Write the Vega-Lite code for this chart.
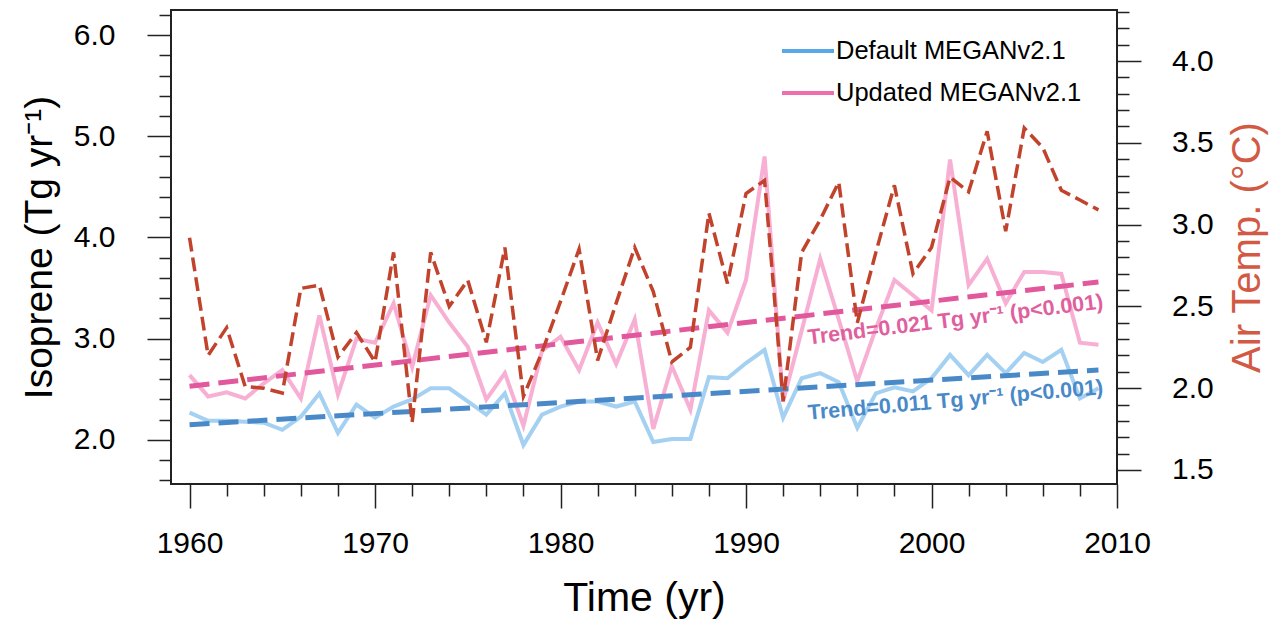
{
  "$schema": "https://vega.github.io/schema/vega-lite/v6.json",
  "width": 946,
  "height": 474,
  "autosize": "none",
  "padding": {"left": 171, "top": 10, "right": 162, "bottom": 137},
  "background": "white",
  "config": {
    "view": {"stroke": "#222", "strokeWidth": 2},
    "font": "Liberation Sans",
    "axis": {
      "labelFont": "Liberation Sans",
      "titleFont": "Liberation Sans",
      "labelColor": "black",
      "titleColor": "black",
      "tickColor": "#222",
      "tickWidth": 1.5,
      "grid": false,
      "domain": false,
      "titleFontWeight": "normal",
      "labelFontSize": 30,
      "titleFontSize": 39,
      "labelOverlap": false,
      "labelFlush": false,
      "labelBound": false
    },
    "legend": {
      "orient": "none",
      "legendX": 609,
      "legendY": 26,
      "padding": 0,
      "symbolType": "stroke",
      "symbolStrokeWidth": 4,
      "symbolSize": 2704,
      "symbolOpacity": 1,
      "labelFont": "Liberation Sans",
      "labelFontSize": 25.5,
      "labelColor": "black",
      "labelOffset": 0,
      "labelLimit": 0,
      "clipHeight": 30,
      "rowPadding": 12
    }
  },
  "datasets": {
    "isoprene": [
      {"year": 1960, "series": "Default MEGANv2.1", "value": 2.27},
      {"year": 1961, "series": "Default MEGANv2.1", "value": 2.19},
      {"year": 1962, "series": "Default MEGANv2.1", "value": 2.19},
      {"year": 1963, "series": "Default MEGANv2.1", "value": 2.18},
      {"year": 1964, "series": "Default MEGANv2.1", "value": 2.17},
      {"year": 1965, "series": "Default MEGANv2.1", "value": 2.10},
      {"year": 1966, "series": "Default MEGANv2.1", "value": 2.23},
      {"year": 1967, "series": "Default MEGANv2.1", "value": 2.46},
      {"year": 1968, "series": "Default MEGANv2.1", "value": 2.07},
      {"year": 1969, "series": "Default MEGANv2.1", "value": 2.35},
      {"year": 1970, "series": "Default MEGANv2.1", "value": 2.22},
      {"year": 1971, "series": "Default MEGANv2.1", "value": 2.33},
      {"year": 1972, "series": "Default MEGANv2.1", "value": 2.40},
      {"year": 1973, "series": "Default MEGANv2.1", "value": 2.51},
      {"year": 1974, "series": "Default MEGANv2.1", "value": 2.51},
      {"year": 1975, "series": "Default MEGANv2.1", "value": 2.38},
      {"year": 1976, "series": "Default MEGANv2.1", "value": 2.25},
      {"year": 1977, "series": "Default MEGANv2.1", "value": 2.46},
      {"year": 1978, "series": "Default MEGANv2.1", "value": 1.95},
      {"year": 1979, "series": "Default MEGANv2.1", "value": 2.25},
      {"year": 1980, "series": "Default MEGANv2.1", "value": 2.33},
      {"year": 1981, "series": "Default MEGANv2.1", "value": 2.38},
      {"year": 1982, "series": "Default MEGANv2.1", "value": 2.38},
      {"year": 1983, "series": "Default MEGANv2.1", "value": 2.33},
      {"year": 1984, "series": "Default MEGANv2.1", "value": 2.38},
      {"year": 1985, "series": "Default MEGANv2.1", "value": 1.98},
      {"year": 1986, "series": "Default MEGANv2.1", "value": 2.01},
      {"year": 1987, "series": "Default MEGANv2.1", "value": 2.01},
      {"year": 1988, "series": "Default MEGANv2.1", "value": 2.62},
      {"year": 1989, "series": "Default MEGANv2.1", "value": 2.61},
      {"year": 1990, "series": "Default MEGANv2.1", "value": 2.76},
      {"year": 1991, "series": "Default MEGANv2.1", "value": 2.89},
      {"year": 1992, "series": "Default MEGANv2.1", "value": 2.22},
      {"year": 1993, "series": "Default MEGANv2.1", "value": 2.61},
      {"year": 1994, "series": "Default MEGANv2.1", "value": 2.66},
      {"year": 1995, "series": "Default MEGANv2.1", "value": 2.57},
      {"year": 1996, "series": "Default MEGANv2.1", "value": 2.12},
      {"year": 1997, "series": "Default MEGANv2.1", "value": 2.46},
      {"year": 1998, "series": "Default MEGANv2.1", "value": 2.52},
      {"year": 1999, "series": "Default MEGANv2.1", "value": 2.48},
      {"year": 2000, "series": "Default MEGANv2.1", "value": 2.61},
      {"year": 2001, "series": "Default MEGANv2.1", "value": 2.84},
      {"year": 2002, "series": "Default MEGANv2.1", "value": 2.64},
      {"year": 2003, "series": "Default MEGANv2.1", "value": 2.84},
      {"year": 2004, "series": "Default MEGANv2.1", "value": 2.66},
      {"year": 2005, "series": "Default MEGANv2.1", "value": 2.86},
      {"year": 2006, "series": "Default MEGANv2.1", "value": 2.77},
      {"year": 2007, "series": "Default MEGANv2.1", "value": 2.89},
      {"year": 2008, "series": "Default MEGANv2.1", "value": 2.41},
      {"year": 2009, "series": "Default MEGANv2.1", "value": 2.51},
      {"year": 1960, "series": "Updated MEGANv2.1", "value": 2.64},
      {"year": 1961, "series": "Updated MEGANv2.1", "value": 2.43},
      {"year": 1962, "series": "Updated MEGANv2.1", "value": 2.47},
      {"year": 1963, "series": "Updated MEGANv2.1", "value": 2.41},
      {"year": 1964, "series": "Updated MEGANv2.1", "value": 2.56},
      {"year": 1965, "series": "Updated MEGANv2.1", "value": 2.69},
      {"year": 1966, "series": "Updated MEGANv2.1", "value": 2.41},
      {"year": 1967, "series": "Updated MEGANv2.1", "value": 3.23},
      {"year": 1968, "series": "Updated MEGANv2.1", "value": 2.45},
      {"year": 1969, "series": "Updated MEGANv2.1", "value": 3.00},
      {"year": 1970, "series": "Updated MEGANv2.1", "value": 2.96},
      {"year": 1971, "series": "Updated MEGANv2.1", "value": 3.35},
      {"year": 1972, "series": "Updated MEGANv2.1", "value": 2.72},
      {"year": 1973, "series": "Updated MEGANv2.1", "value": 3.43},
      {"year": 1974, "series": "Updated MEGANv2.1", "value": 3.16},
      {"year": 1975, "series": "Updated MEGANv2.1", "value": 2.92},
      {"year": 1976, "series": "Updated MEGANv2.1", "value": 2.40},
      {"year": 1977, "series": "Updated MEGANv2.1", "value": 2.66},
      {"year": 1978, "series": "Updated MEGANv2.1", "value": 2.14},
      {"year": 1979, "series": "Updated MEGANv2.1", "value": 2.88},
      {"year": 1980, "series": "Updated MEGANv2.1", "value": 3.02},
      {"year": 1981, "series": "Updated MEGANv2.1", "value": 2.69},
      {"year": 1982, "series": "Updated MEGANv2.1", "value": 3.16},
      {"year": 1983, "series": "Updated MEGANv2.1", "value": 2.75},
      {"year": 1984, "series": "Updated MEGANv2.1", "value": 3.19},
      {"year": 1985, "series": "Updated MEGANv2.1", "value": 2.11},
      {"year": 1986, "series": "Updated MEGANv2.1", "value": 2.73},
      {"year": 1987, "series": "Updated MEGANv2.1", "value": 2.30},
      {"year": 1988, "series": "Updated MEGANv2.1", "value": 3.28},
      {"year": 1989, "series": "Updated MEGANv2.1", "value": 3.06},
      {"year": 1990, "series": "Updated MEGANv2.1", "value": 3.58},
      {"year": 1991, "series": "Updated MEGANv2.1", "value": 4.80},
      {"year": 1992, "series": "Updated MEGANv2.1", "value": 2.38},
      {"year": 1993, "series": "Updated MEGANv2.1", "value": 3.08},
      {"year": 1994, "series": "Updated MEGANv2.1", "value": 3.79},
      {"year": 1995, "series": "Updated MEGANv2.1", "value": 3.19},
      {"year": 1996, "series": "Updated MEGANv2.1", "value": 2.58},
      {"year": 1997, "series": "Updated MEGANv2.1", "value": 3.10},
      {"year": 1998, "series": "Updated MEGANv2.1", "value": 3.58},
      {"year": 1999, "series": "Updated MEGANv2.1", "value": 3.43},
      {"year": 2000, "series": "Updated MEGANv2.1", "value": 3.28},
      {"year": 2001, "series": "Updated MEGANv2.1", "value": 4.77},
      {"year": 2002, "series": "Updated MEGANv2.1", "value": 3.53},
      {"year": 2003, "series": "Updated MEGANv2.1", "value": 3.79},
      {"year": 2004, "series": "Updated MEGANv2.1", "value": 3.35},
      {"year": 2005, "series": "Updated MEGANv2.1", "value": 3.66},
      {"year": 2006, "series": "Updated MEGANv2.1", "value": 3.66},
      {"year": 2007, "series": "Updated MEGANv2.1", "value": 3.64},
      {"year": 2008, "series": "Updated MEGANv2.1", "value": 2.96},
      {"year": 2009, "series": "Updated MEGANv2.1", "value": 2.94}
    ],
    "trend": [
      {"year": 1960, "series": "Default", "value": 2.15},
      {"year": 2009, "series": "Default", "value": 2.69},
      {"year": 1960, "series": "Updated", "value": 2.53},
      {"year": 2009, "series": "Updated", "value": 3.56}
    ],
    "labels": [
      {"year": 2001.3, "value": 3.18, "series": "Updated", "label": "Trend=0.021 Tg yr⁻¹ (p<0.001)"},
      {"year": 2001.3, "value": 2.385, "series": "Default", "label": "Trend=0.011 Tg yr⁻¹ (p<0.001)"}
    ],
    "temp": [
      {"year": 1960, "temp": 2.92}, {"year": 1961, "temp": 2.20}, {"year": 1962, "temp": 2.37},
      {"year": 1963, "temp": 2.01}, {"year": 1964, "temp": 2.00}, {"year": 1965, "temp": 1.97},
      {"year": 1966, "temp": 2.61}, {"year": 1967, "temp": 2.63}, {"year": 1968, "temp": 2.19},
      {"year": 1969, "temp": 2.34}, {"year": 1970, "temp": 2.16}, {"year": 1971, "temp": 2.83},
      {"year": 1972, "temp": 1.79}, {"year": 1973, "temp": 2.83}, {"year": 1974, "temp": 2.50},
      {"year": 1975, "temp": 2.66}, {"year": 1976, "temp": 2.28}, {"year": 1977, "temp": 2.86},
      {"year": 1978, "temp": 1.95}, {"year": 1979, "temp": 2.22}, {"year": 1980, "temp": 2.53},
      {"year": 1981, "temp": 2.85}, {"year": 1982, "temp": 2.17}, {"year": 1983, "temp": 2.52},
      {"year": 1984, "temp": 2.86}, {"year": 1985, "temp": 2.59}, {"year": 1986, "temp": 2.16},
      {"year": 1987, "temp": 2.25}, {"year": 1988, "temp": 3.07}, {"year": 1989, "temp": 2.64},
      {"year": 1990, "temp": 3.19}, {"year": 1991, "temp": 3.27}, {"year": 1992, "temp": 1.92},
      {"year": 1993, "temp": 2.83}, {"year": 1994, "temp": 3.03}, {"year": 1995, "temp": 3.26},
      {"year": 1996, "temp": 2.40}, {"year": 1997, "temp": 2.83}, {"year": 1998, "temp": 3.24},
      {"year": 1999, "temp": 2.70}, {"year": 2000, "temp": 2.86}, {"year": 2001, "temp": 3.29},
      {"year": 2002, "temp": 3.20}, {"year": 2003, "temp": 3.57}, {"year": 2004, "temp": 2.96},
      {"year": 2005, "temp": 3.59}, {"year": 2006, "temp": 3.47}, {"year": 2007, "temp": 3.21},
      {"year": 2008, "temp": 3.15}, {"year": 2009, "temp": 3.09}
    ]
  },
  "encoding": {
    "x": {
      "field": "year",
      "type": "quantitative",
      "scale": {"domain": [1959, 2010], "nice": false, "zero": false},
      "axis": {
        "title": "Time (yr)",
        "titleFontSize": 41,
        "values": [1960,1962,1964,1966,1968,1970,1972,1974,1976,1978,1980,1982,1984,1986,1988,1990,1992,1994,1996,1998,2000,2002,2004,2006,2008,2010],
        "labelExpr": "datum.value % 10 === 0 ? format(datum.value, 'd') : ''",
        "tickSize": {"condition": {"test": "datum.value % 10 === 0", "value": 24}, "value": 12},
        "labelPadding": 20,
        "titlePadding": 20
      }
    }
  },
  "layer": [
    {
      "encoding": {
        "y": {
          "field": "value",
          "type": "quantitative",
          "scale": {"domain": [1.565, 6.247], "nice": false, "zero": false},
          "axis": {
            "title": "Isoprene (Tg yr⁻¹)",
            "orient": "left",
            "values": [1.6,1.8,2,2.2,2.4,2.6,2.8,3,3.2,3.4,3.6,3.8,4,4.2,4.4,4.6,4.8,5,5.2,5.4,5.6,5.8,6,6.2],
            "labelExpr": "abs(datum.value - round(datum.value)) < 0.001 ? format(datum.value, '.1f') : ''",
            "tickSize": {"condition": {"test": "abs(datum.value - round(datum.value)) < 0.001", "value": 24}, "value": 12},
            "labelPadding": 32,
            "titlePadding": 14
          }
        }
      },
      "layer": [
        {
          "data": {"name": "isoprene"},
          "mark": {"type": "line", "strokeWidth": 4, "opacity": 0.55},
          "encoding": {
            "color": {
              "field": "series",
              "type": "nominal",
              "scale": {"domain": ["Default MEGANv2.1", "Updated MEGANv2.1"], "range": ["#5aa9e6", "#f06eae"]},
              "legend": {"title": null}
            }
          }
        },
        {
          "data": {"name": "trend"},
          "transform": [{"filter": "datum.series === 'Default'"}],
          "mark": {"type": "line", "strokeWidth": 5, "strokeDash": [20, 9], "color": "#4a89c8"}
        },
        {
          "data": {"name": "trend"},
          "transform": [{"filter": "datum.series === 'Updated'"}],
          "mark": {"type": "line", "strokeWidth": 5, "strokeDash": [20, 9], "color": "#e2589c"}
        },
        {
          "data": {"name": "labels"},
          "transform": [{"filter": "datum.series === 'Updated'"}],
          "mark": {"type": "text", "font": "Liberation Sans", "fontSize": 21.5, "fontWeight": "bold", "color": "#e0609e", "angle": 353, "align": "center", "baseline": "middle"},
          "encoding": {"text": {"field": "label"}}
        },
        {
          "data": {"name": "labels"},
          "transform": [{"filter": "datum.series === 'Default'"}],
          "mark": {"type": "text", "font": "Liberation Sans", "fontSize": 21.5, "fontWeight": "bold", "color": "#4a89c8", "angle": 355, "align": "center", "baseline": "middle"},
          "encoding": {"text": {"field": "label"}}
        }
      ]
    },
    {
      "data": {"name": "temp"},
      "mark": {"type": "line", "strokeWidth": 3.5, "strokeDash": [14, 6], "color": "#c1432c"},
      "encoding": {
        "y": {
          "field": "temp",
          "type": "quantitative",
          "scale": {"domain": [1.414, 4.312], "nice": false, "zero": false},
          "axis": {
            "title": "Air Temp. (°C)",
            "titleColor": "#d25a44",
            "titleFontSize": 40,
            "titleAngle": 270,
            "orient": "right",
            "values": [1.5,1.6,1.7,1.8,1.9,2,2.1,2.2,2.3,2.4,2.5,2.6,2.7,2.8,2.9,3,3.1,3.2,3.3,3.4,3.5,3.6,3.7,3.8,3.9,4,4.1,4.2,4.3],
            "labelExpr": "abs(datum.value * 2 - round(datum.value * 2)) < 0.001 ? format(datum.value, '.1f') : ''",
            "tickSize": {"condition": {"test": "abs(datum.value * 2 - round(datum.value * 2)) < 0.001", "value": 24}, "value": 12},
            "labelPadding": 30.5,
            "titlePadding": 54
          }
        }
      }
    }
  ],
  "resolve": {"scale": {"y": "independent"}}
}
